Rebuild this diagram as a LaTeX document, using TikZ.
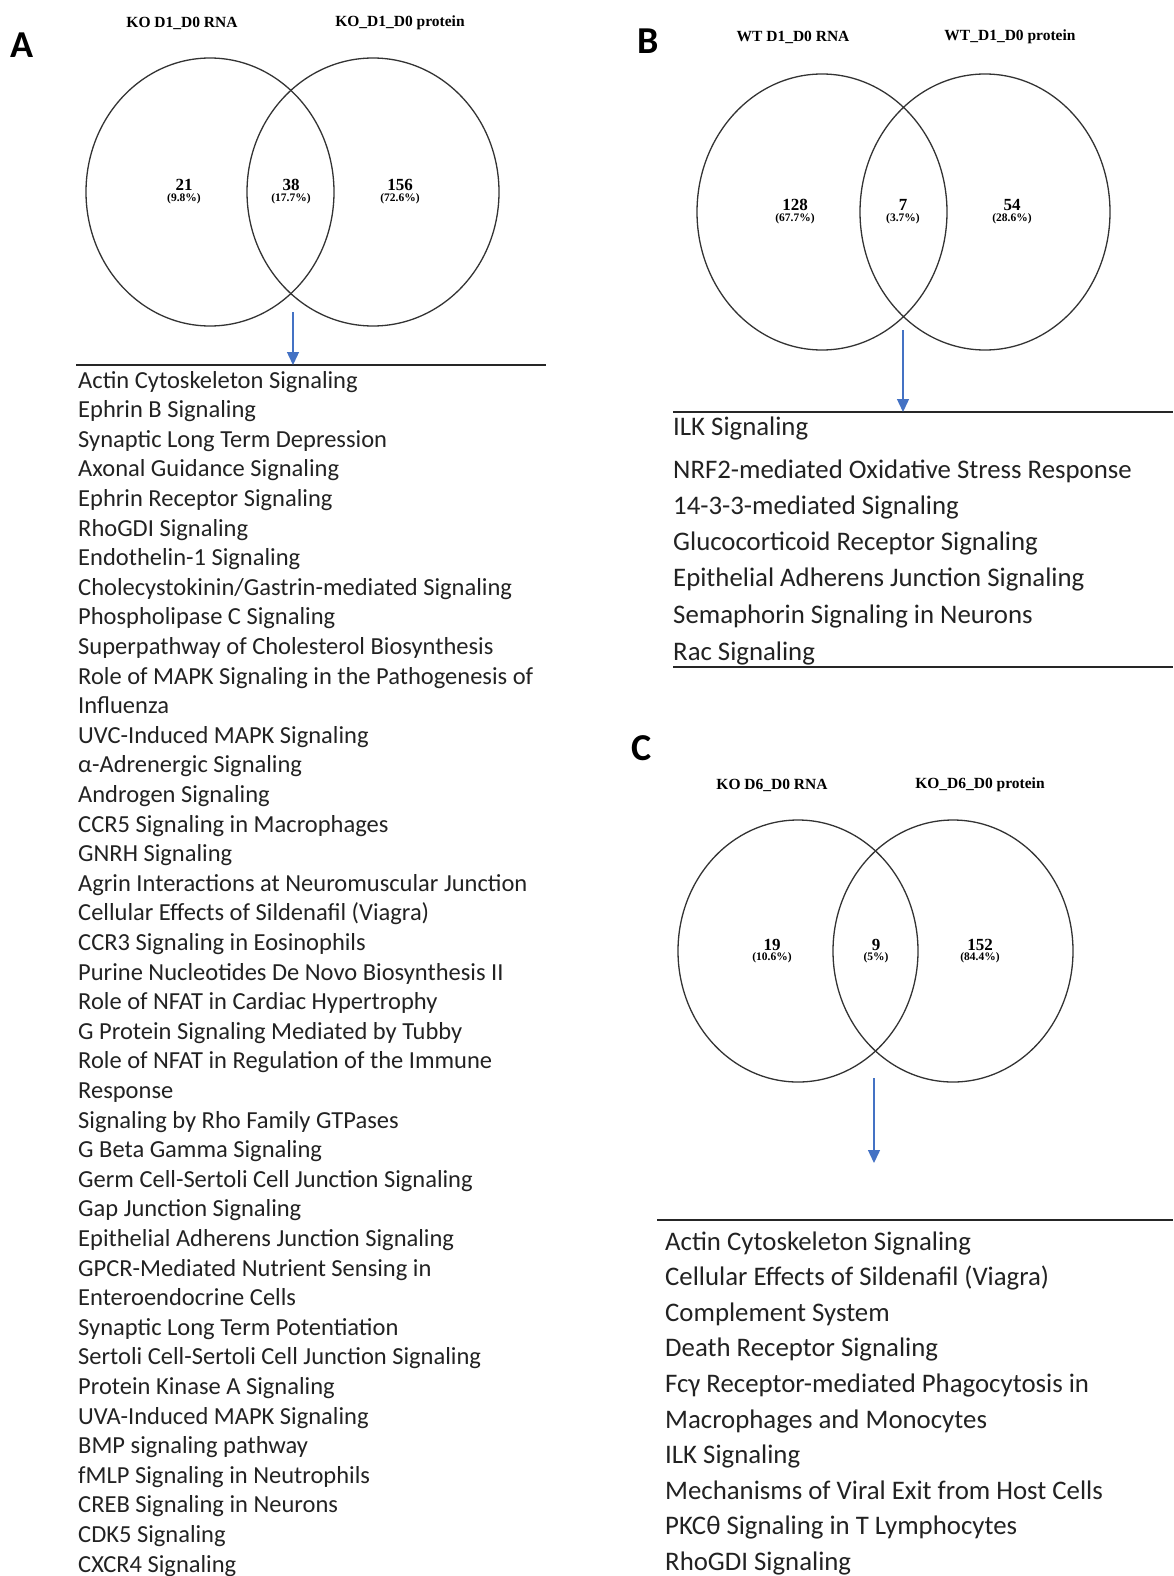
\documentclass[tikz,border=0pt]{standalone}
\usepackage{fontspec}
\setmainfont{Carlito}
\newfontfamily\vennfont{Liberation Serif}
\usepackage{xcolor}
\usepackage{tikz}
\usetikzlibrary{arrows.meta,positioning,shapes.geometric}
\definecolor{arrowblue}{RGB}{68,114,196}
\definecolor{textgray}{RGB}{34,34,34}
\tikzset{
  venn/.style={draw=black!80,line width=1.3pt,ellipse,inner sep=0pt},
  vtitle/.style={font=\vennfont\bfseries\fontsize{15.5}{16}\selectfont,inner sep=0pt},
  vnum/.style={font=\vennfont\bfseries\fontsize{17}{17}\selectfont,inner sep=0pt},
  vpct/.style={font=\vennfont\bfseries\fontsize{11.5}{12}\selectfont,inner sep=0pt},
  panel/.style={font=\bfseries\fontsize{38}{40}\selectfont,anchor=base west,inner sep=0pt},
  itemA/.style={font=\fontsize{24.5}{29}\selectfont,text=textgray,anchor=base west,inner sep=0pt},
  itemB/.style={font=\fontsize{26.8}{32}\selectfont,text=textgray,anchor=base west,inner sep=0pt},
  sepline/.style={line width=2.2pt,black!85},
  downarrow/.style={arrowblue,line width=1.4pt,-{Triangle[length=13pt,width=12pt]}}
}

\begin{document}
\begin{tikzpicture}[x=1pt,y=-1pt]
\useasboundingbox (0,0) rectangle (1173,1576);

% panel A
\node[panel] (labA) at (10,58) {A};
\node[vtitle] (tA1) at (182,23) {KO D1\_D0 RNA};
\node[vtitle] (tA2) at (400,23) {KO\_D1\_D0 protein};
\node[venn,minimum width=248pt,minimum height=268pt] (cA1) at (210,192) {};
\node[venn,minimum width=252pt,minimum height=268pt] (cA2) at (373,192) {};
\node[vnum] (nA1) at (184,185) {21};
\node[vpct] (pA1) at (184,199) {(9.8\%)};
\node[vnum] (nA2) at (291,185) {38};
\node[vpct] (pA2) at (291,199) {(17.7\%)};
\node[vnum] (nA3) at (400,185) {156};
\node[vpct] (pA3) at (400,199) {(72.6\%)};
\coordinate (sA) at (293,312);
\coordinate (lA1) at (76,365);
\coordinate (lA2) at (546,365);
\draw[sepline] (lA1) -- (lA2);
\draw[downarrow] (sA) -- (sA |- lA1);
\foreach \t [count=\i] in {Actin Cytoskeleton Signaling, Ephrin B Signaling,
  Synaptic Long Term Depression, Axonal Guidance Signaling,
  Ephrin Receptor Signaling, RhoGDI Signaling, Endothelin-1 Signaling,
  Cholecystokinin/Gastrin-mediated Signaling, Phospholipase C Signaling,
  Superpathway of Cholesterol Biosynthesis,
  Role of MAPK Signaling in the Pathogenesis of, Influenza,
  UVC-Induced MAPK Signaling, α-Adrenergic Signaling, Androgen Signaling,
  CCR5 Signaling in Macrophages, GNRH Signaling,
  Agrin Interactions at Neuromuscular Junction,
  Cellular Effects of Sildenafil (Viagra), CCR3 Signaling in Eosinophils,
  Purine Nucleotides De Novo Biosynthesis II,
  Role of NFAT in Cardiac Hypertrophy, G Protein Signaling Mediated by Tubby,
  Role of NFAT in Regulation of the Immune, Response,
  Signaling by Rho Family GTPases, G Beta Gamma Signaling,
  Germ Cell-Sertoli Cell Junction Signaling, Gap Junction Signaling,
  Epithelial Adherens Junction Signaling, GPCR-Mediated Nutrient Sensing in,
  Enteroendocrine Cells, Synaptic Long Term Potentiation,
  Sertoli Cell-Sertoli Cell Junction Signaling, Protein Kinase A Signaling,
  UVA-Induced MAPK Signaling, BMP signaling pathway,
  fMLP Signaling in Neutrophils, CREB Signaling in Neurons, CDK5 Signaling,
  CXCR4 Signaling}
  \node[itemA] (a\i) at (78,{388+29.6*(\i-1)}) {\t};

% panel B
\node[panel] (labB) at (637,54) {B};
\node[vtitle] (tB1) at (793,37) {WT D1\_D0 RNA};
\node[vtitle] (tB2) at (1010,37) {WT\_D1\_D0 protein};
\node[venn,minimum width=250pt,minimum height=276pt] (cB1) at (822,212) {};
\node[venn,minimum width=250pt,minimum height=276pt] (cB2) at (985,212) {};
\node[vnum] (nB1) at (795,205) {128};
\node[vpct] (pB1) at (795,219) {(67.7\%)};
\node[vnum] (nB2) at (903,205) {7};
\node[vpct] (pB2) at (903,219) {(3.7\%)};
\node[vnum] (nB3) at (1012,205) {54};
\node[vpct] (pB3) at (1012,219) {(28.6\%)};
\coordinate (sB) at (903,330);
\coordinate (lB1) at (673,412);
\coordinate (lB2) at (1173,412);
\coordinate (lB3) at (673,667);
\coordinate (lB4) at (1173,667);
\draw[sepline] (lB1) -- (lB2);
\draw[sepline] (lB3) -- (lB4);
\draw[downarrow] (sB) -- (sB |- lB1);
\foreach \t/\y [count=\i] in {ILK Signaling/427,
  NRF2-mediated Oxidative Stress Response/470, 14-3-3-mediated Signaling/506,
  Glucocorticoid Receptor Signaling/542,
  Epithelial Adherens Junction Signaling/578,
  Semaphorin Signaling in Neurons/615, Rac Signaling/652}
  \node[itemB] (b\i) at (673,{\y+8}) {\t};

% panel C
\node[panel] (labC) at (631,760) {C};
\node[vtitle] (tC1) at (772,785) {KO D6\_D0 RNA};
\node[vtitle] (tC2) at (980,785) {KO\_D6\_D0 protein};
\node[venn,minimum width=240pt,minimum height=262pt] (cC1) at (798,951) {};
\node[venn,minimum width=240pt,minimum height=262pt] (cC2) at (953,951) {};
\node[vnum] (nC1) at (772,945) {19};
\node[vpct] (pC1) at (772,958) {(10.6\%)};
\node[vnum] (nC2) at (876,945) {9};
\node[vpct] (pC2) at (876,958) {(5\%)};
\node[vnum] (nC3) at (980,945) {152};
\node[vpct] (pC3) at (980,958) {(84.4\%)};
\coordinate (sC) at (874,1078);
\coordinate (tipC) at (874,1163);
\coordinate (lC1) at (657,1220);
\coordinate (lC2) at (1173,1220);
\draw[sepline] (lC1) -- (lC2);
\draw[downarrow] (sC) -- (tipC);
\foreach \t [count=\i] in {Actin Cytoskeleton Signaling,
  Cellular Effects of Sildenafil (Viagra), Complement System,
  Death Receptor Signaling, Fcγ Receptor-mediated Phagocytosis in,
  Macrophages and Monocytes, ILK Signaling,
  Mechanisms of Viral Exit from Host Cells, PKCθ Signaling in T Lymphocytes,
  RhoGDI Signaling}
  \node[itemB] (c\i) at (665,{1250+35.6*(\i-1)}) {\t};
\end{tikzpicture}
\end{document}
